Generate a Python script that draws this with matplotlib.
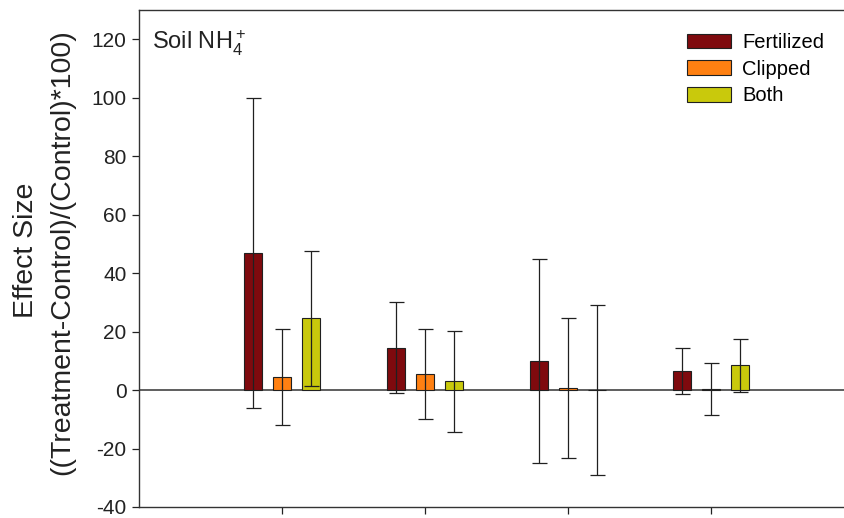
# -*- coding: utf-8 -*-

import matplotlib
matplotlib.use('Agg')
import matplotlib.pyplot as plt
from matplotlib.patches import Patch
import numpy as np

# データ (グループごとの効果量と誤差)
groups = [1, 2, 3, 4]
treatments = ['Fertilized', 'Clipped', 'Both']
fertilized = [47.0, 14.5, 10.0, 6.5]
fertilized_err = [53.0, 15.5, 35.0, 8.0]
clipped = [4.5, 5.5, 0.7, 0.3]
clipped_err = [16.3, 15.5, 24.0, 8.8]
both = [24.5, 3.0, 0.0, 8.5]
both_err = [23.0, 17.3, 29.0, 9.0]
yticks = [-40, -20, 0, 20, 40, 60, 80, 100, 120]

colors = ['#7f0a0e', '#ff8012', '#c9c90c']

plt.rcParams['font.family'] = ['Liberation Sans', 'DejaVu Sans']
plt.rcParams['axes.unicode_minus'] = False
plt.rcParams['mathtext.fontset'] = 'custom'
plt.rcParams['mathtext.rm'] = 'Liberation Sans'

fig = plt.figure(figsize=(8.45, 5.18), dpi=100)
ax = fig.add_axes([139 / 845, 11 / 518, 715 / 845, 497 / 518])

values = [fertilized, clipped, both]
errors = [fertilized_err, clipped_err, both_err]
offsets = [-0.2, 0.0, 0.2]
x = np.array(groups, dtype=float)

for vals, errs, off, c in zip(values, errors, offsets, colors):
    ax.bar(x + off, vals, width=0.125, color=c, edgecolor='#202020',
           linewidth=0.8, zorder=2)
    ax.errorbar(x + off, vals, yerr=errs, fmt='none', ecolor='#202020',
                elinewidth=0.9, capsize=5.4, capthick=0.9, zorder=3)

ax.axhline(0, color='#333333', linewidth=1.1, zorder=1)

ax.set_xlim(0, 5)
ax.set_ylim(-40, 130)
ax.set_yticks(yticks)
ax.set_xticks(groups)
ax.set_xticklabels([])
ax.tick_params(axis='both', direction='out', length=5, width=0.9,
               labelsize=15, pad=4, colors='#222222')
ax.spines['right'].set_visible(False)
for s in ['left', 'bottom', 'top']:
    ax.spines[s].set_linewidth(1.0)
    ax.spines[s].set_color('#333333')

ax.text(152 / 845, (518 - 43) / 518, r'Soil NH$\mathrm{_4^+}$', transform=fig.transFigure,
        fontsize=17, va='center', ha='left', color='#222222')

fig.text(26 / 845, (518 - 250) / 518, 'Effect Size', rotation=90,
         fontsize=20.5, va='center', ha='center', color='#222222')
fig.text(62 / 845, (518 - 252) / 518, '((Treatment-Control)/(Control)*100)',
         rotation=90, fontsize=20.5, va='center', ha='center', color='#222222')

handles = [Patch(facecolor=c, edgecolor='#202020', linewidth=0.8) for c in colors]
fig.legend(handles, treatments, loc='upper left',
           bbox_to_anchor=(687 / 845, (518 - 33) / 518), frameon=False,
           fontsize=14.5, handlelength=2.2, handleheight=0.75,
           handletextpad=0.55, labelspacing=0.38, borderpad=0, borderaxespad=0)

fig.savefig('out.png', dpi=100)
